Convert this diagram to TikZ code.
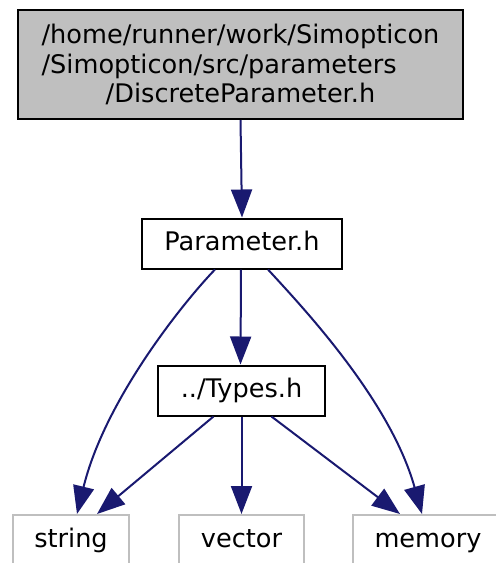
\documentclass[tikz,border=0pt]{standalone}
\usepackage{fontspec}
\setmainfont{DejaVu Sans}
\usetikzlibrary{arrows.meta,positioning}

\definecolor{edgeblue}{HTML}{191970}
\definecolor{rootgray}{HTML}{BFBFBF}
\definecolor{extgray}{HTML}{BFBFBF}

\begin{document}
\begin{tikzpicture}[
    x=0.5pt, y=-0.5pt,
    font=\fontsize{12.8}{14.75}\selectfont,
    rootbox/.style={draw=black, fill=rootgray, line width=1pt, inner sep=0pt, minimum width=222.5pt, minimum height=54.5pt, align=center},
    filebox/.style={draw=black, fill=white, line width=1pt, inner sep=0pt, text height=9.6pt, text depth=2.6pt, minimum height=25pt, align=center},
    extbox/.style={draw=extgray, fill=white, line width=1pt, inner sep=0pt, text height=9.6pt, text depth=2.6pt, minimum height=25pt, align=center},
    wire/.style={-{Triangle[length=14pt,width=10.5pt]}, line width=1pt, draw=edgeblue}
]
    \useasboundingbox (0,0) rectangle (496,563);
    \clip (0,0) rectangle (496,563);

    % Fichier documente
    \node[rootbox] (discrete) at (240.5, 64.5) {/home/runner/work/Simopticon\\ \rlap{/Simopticon/src/parameters}\phantom{/home/runner/work/Simopticon}\\ /DiscreteParameter.h};

    % En-tetes du projet
    \node[filebox, minimum width=100pt] (param) at (242, 243.5) {Parameter.h};
    \node[filebox, minimum width=83.5pt] (types) at (241.5, 390.5) {../Types.h};

    % En-tetes systeme
    \node[extbox, minimum width=58pt] (str) at (71, 540) {string};
    \node[extbox, minimum width=62.5pt] (vec) at (241.5, 540) {vector};
    \node[extbox, minimum width=75pt] (mem) at (428, 540) {memory};

    % Dependances
    \draw[wire] (discrete.south) -- (param.north);

    \draw[wire] ([xshift=-13.5pt]param.south) .. controls +(-30,31) and +(28,-115) .. ([xshift=3pt]str.north);
    \draw[wire] ([xshift=-0.5pt]param.south) -- ([xshift=-0.5pt]types.north);
    \draw[wire] ([xshift=13pt]param.south) .. controls +(32,35) and +(-32,-115) .. ([xshift=-3pt]mem.north);

    \draw[wire] ([xshift=-14pt]types.south) -- ([xshift=13pt]str.north);
    \draw[wire] (types.south) -- (vec.north);
    \draw[wire] ([xshift=15pt]types.south) -- ([xshift=-14pt]mem.north);

\end{tikzpicture}
\end{document}
